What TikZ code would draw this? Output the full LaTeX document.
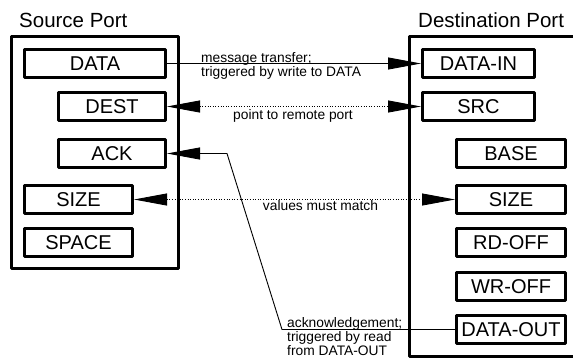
\documentclass[tikz,border=0pt]{standalone}
\usepackage{fontspec}
\setmainfont{Liberation Sans}
\usetikzlibrary{arrows.meta}
\begin{document}
\begin{tikzpicture}[x=1pt,y=-1pt,
  >={Triangle[length=33pt,width=12pt]},
  reg/.style={draw, line width=2.8pt, line join=round, minimum height=28.2pt,
    inner sep=0pt, font=\fontsize{20}{24}\selectfont},
  port/.style={draw, line width=2.8pt, line join=round, inner sep=0pt},
  lbl/.style={font=\fontsize{13.8}{14.2}\selectfont, inner sep=0pt},
  heading/.style={font=\fontsize{20.5}{24}\selectfont, inner sep=0pt, anchor=base west},
  wire/.style={line width=0.9pt},
  dots/.style={wire, dash pattern=on 1pt off 1.6pt}]

\useasboundingbox (0,0) rectangle (573,360);

% port frames
\node[port, minimum width=167.2pt, minimum height=232.2pt] (srcport) at (95,152.5) {};
\node[port, minimum width=166.6pt, minimum height=320.4pt] (dstport) at (492.7,196.6) {};

\node[heading] (srctitle) at (19,27) {Source Port};
\node[heading] (dsttitle) at (418,27) {Destination Port};

% source registers
\node[reg, minimum width=141.2pt] (data)  at (95,63.5)   {DATA};
\node[reg, minimum width=107.2pt] (dest)  at (112,106.5) {DEST};
\node[reg, minimum width=107.2pt] (ack)   at (112,153.5) {ACK};
\node[reg, minimum width=108.2pt] (ssize) at (78.5,199.5) {SIZE};
\node[reg, minimum width=108.2pt] (space) at (78.5,242.5) {SPACE};

% destination registers
\node[reg, minimum width=112.2pt] (datain)  at (478.5,63.5)  {DATA-IN};
\node[reg, minimum width=112.2pt] (src)     at (478.5,106.5) {SRC};
\node[reg, minimum width=109.2pt] (base)    at (511,153.5)   {BASE};
\node[reg, minimum width=109.2pt] (dsize)   at (511,199.5)   {SIZE};
\node[reg, minimum width=109.2pt] (rdoff)   at (511,242.5)   {RD-OFF};
\node[reg, minimum width=109.2pt] (wroff)   at (511,286.5)   {WR-OFF};
\node[reg, minimum width=109.2pt] (dataout) at (511,329.5)   {DATA-OUT};

% connectors
\draw[wire,->] (data.east) -- (datain.west);
\draw[dots,<->] (dest.east) -- (src.west);
\draw[dots,<->] (ssize.east) -- (dsize.west);
\coordinate (ackknee) at (282,329.5);
\coordinate (ackbend) at (227,153.5);
\draw[wire,->] (dataout.west) -- (ackknee) -- (ackbend) -- (ack.east);

% labels (base anchor sits on the last line)
\node[lbl, anchor=base west, align=left] (msglbl) at (201,76.2)
  {message transfer;\\triggered by write to DATA};
\node[lbl, anchor=base] (ptrlbl) at (293,119) {point to remote port};
\node[lbl, anchor=base] (matchlbl) at (320.5,210) {values must match};
\node[lbl, anchor=base west, align=left] (acklbl) at (287,355.9)
  {acknowledgement;\\triggered by read\\from DATA-OUT};
\end{tikzpicture}
\end{document}
